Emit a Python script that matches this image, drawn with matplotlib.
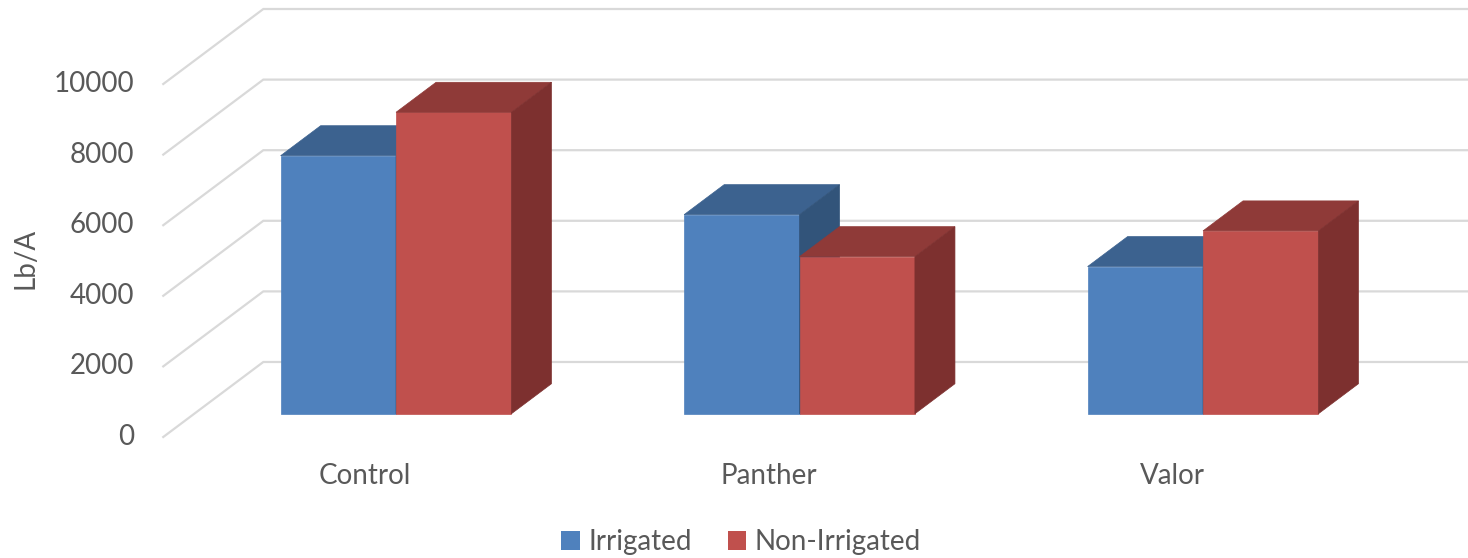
import matplotlib
matplotlib.use('Agg')
import matplotlib.pyplot as plt
from matplotlib.patches import Polygon, Patch

plt.rcParams['font.family'] = ['Lato', 'DejaVu Sans']

# data
categories = ['Control', 'Panther', 'Valor']
irrigated = [7310, 5640, 4170]
non_irrigated = [8540, 4450, 5180]
series_names = ['Irrigated', 'Non-Irrigated']
yticks = [0, 2000, 4000, 6000, 8000, 10000]

# colours: front, top, side
blue = ('#4F81BD', '#3C628F', '#32547A')
red = ('#C0504D', '#8F3A38', '#7D302F')
grid_c = '#D9D9D9'
txt_c = '#595959'
FS = 20

# oblique 3d look: shift of full depth in data units
DX = 0.248      # category units
DY = 2125       # value units
D0, D1 = 0.31, 0.71   # depth of the bars
W = 0.286       # bar width


def proj(x, v, d):
    return (x + d * DX, v + d * DY)


fig = plt.figure(figsize=(14.68, 5.58), dpi=100)
ax = fig.add_axes([0, 0, 1, 1])
ax.set_xlim(-0.9046, 2.7336)
ax.set_ylim(-3428, 12380)
ax.axis('off')

# gridlines: side wall diagonal + back wall
x_left, x_right = -0.5, len(categories) - 0.5
for v in yticks:
    p0 = proj(x_left, v, 0)
    p1 = proj(x_left, v, 1)
    p2 = proj(x_right, v, 1)
    ax.plot([p0[0], p1[0], p2[0]], [p0[1], p1[1], p2[1]], color=grid_c,
            lw=1.6, solid_joinstyle='miter', zorder=1)
    ax.annotate(f'{v}', xy=p0, xytext=(-21, 0), textcoords='offset points',
                ha='right', va='center', fontsize=FS, color=txt_c)


def bar3d(x0, x1, h, cols):
    front = [proj(x0, 0, D0), proj(x1, 0, D0), proj(x1, h, D0), proj(x0, h, D0)]
    top = [proj(x0, h, D0), proj(x1, h, D0), proj(x1, h, D1), proj(x0, h, D1)]
    side = [proj(x1, 0, D0), proj(x1, 0, D1), proj(x1, h, D1), proj(x1, h, D0)]
    for pts, c in zip([front, top, side], cols):
        ax.add_patch(Polygon(pts, closed=True, facecolor=c, edgecolor=c,
                             lw=0.5, zorder=3))


for i, cat in enumerate(categories):
    bar3d(i - W, i, irrigated[i], blue)
    bar3d(i, i + W, non_irrigated[i], red)
    ax.annotate(cat, xy=(i, 0), xytext=(0, -28), textcoords='offset points',
                ha='center', va='center', fontsize=FS, color=txt_c)

fig.text(26 / 1468, 1 - 258 / 558, 'Lb/A', rotation=90, ha='center',
         va='center', fontsize=FS, color=txt_c)

handles = [Patch(facecolor=blue[0]), Patch(facecolor=red[0])]
fig.legend(handles, series_names, loc='lower center', ncol=2, frameon=False,
           bbox_to_anchor=(0.505, -0.04), fontsize=FS, labelcolor=txt_c,
           handlelength=0.65, handleheight=0.65, handletextpad=0.32,
           columnspacing=1.3)

fig.savefig('out.png', dpi=100)
